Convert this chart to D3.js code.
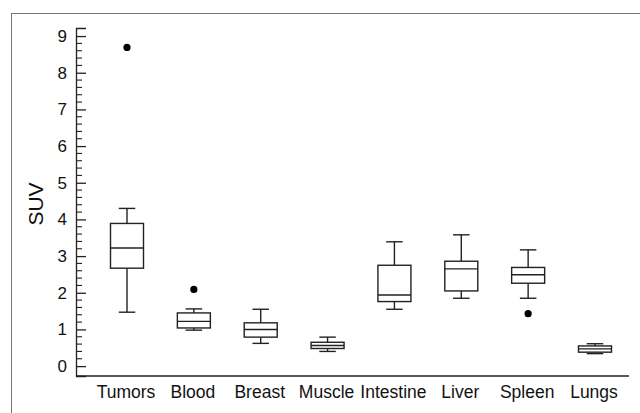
<!DOCTYPE html>
<html>
<head>
<meta charset="utf-8">
<script src="https://cdn.jsdelivr.net/npm/d3@7"></script>
<style>
  body { margin: 0; background: #fff; }
  svg { display: block; font-family: "Liberation Sans", Arial, sans-serif; }
</style>
</head>
<body>
<svg id="chart" width="640" height="413"></svg>
<script>
// box statistics
const organs = ['Tumors', 'Blood', 'Breast', 'Muscle', 'Intestine', 'Liver', 'Spleen', 'Lungs'];
const whiskerLow = [1.47, 0.98, 0.62, 0.40, 1.55, 1.85, 1.85, 0.34];
const q1 = [2.67, 1.04, 0.79, 0.48, 1.76, 2.05, 2.26, 0.38];
const median = [3.22, 1.22, 1.00, 0.56, 1.94, 2.65, 2.49, 0.47];
const q3 = [3.89, 1.45, 1.18, 0.65, 2.75, 2.86, 2.69, 0.55];
const whiskerHigh = [4.30, 1.56, 1.55, 0.79, 3.39, 3.58, 3.17, 0.61];
// outliers as [organ, value]
const outliers = [['Tumors', 8.69], ['Blood', 2.09], ['Spleen', 1.43]];
const yTicks = [0, 1, 2, 3, 4, 5, 6, 7, 8, 9];

const svg = d3.select('#chart');
const ink = '#222';

// outer frame
svg.append('rect')
  .attr('x', 11.5).attr('y', 13.5)
  .attr('width', 700).attr('height', 500)
  .attr('fill', 'none').attr('stroke', '#777').attr('stroke-width', 1);

const y = d3.scaleLinear().domain([-0.27, 9.22]).range([376, 28]);
const x = d3.scalePoint().domain(organs).range([127, 595]);
const boxW = 33;

// y axis, ticks pointing inward
const yAxis = svg.append('g').attr('transform', 'translate(76,0)')
  .call(d3.axisRight(y).tickValues(yTicks).tickSize(10).tickFormat(''));
yAxis.select('.domain').attr('stroke', ink).attr('stroke-width', 1.3);
yAxis.selectAll('.tick line').attr('stroke', ink).attr('stroke-width', 1.3);

const minor = d3.range(0, 9.01, 0.2).filter(v => Math.abs(v - Math.round(v)) > 0.01);
yAxis.selectAll('.minor').data(minor).enter().append('line')
  .attr('x1', 0).attr('x2', 6)
  .attr('y1', d => y(d)).attr('y2', d => y(d))
  .attr('stroke', ink).attr('stroke-width', 1.1);

svg.append('g').selectAll('text').data(yTicks).enter().append('text')
  .attr('x', 67).attr('y', d => y(d) + 6)
  .attr('text-anchor', 'end')
  .attr('font-size', 17)
  .attr('fill', '#111')
  .text(d => d);

// x axis line
svg.append('line')
  .attr('x1', 76).attr('x2', 629)
  .attr('y1', y(-0.27)).attr('y2', y(-0.27))
  .attr('stroke', ink).attr('stroke-width', 1.3);

svg.append('g').selectAll('text').data(organs).enter().append('text')
  .attr('x', d => x(d) - 1)
  .attr('y', 398)
  .attr('text-anchor', 'middle')
  .attr('font-size', 17.5)
  .attr('fill', '#111')
  .text(d => d);

// y label
svg.append('text')
  .attr('transform', 'translate(43,204) rotate(-90)')
  .attr('text-anchor', 'middle')
  .attr('font-size', 21)
  .attr('fill', '#111')
  .text('SUV');

// boxes
const boxes = svg.append('g').selectAll('g').data(organs).enter().append('g')
  .attr('stroke', ink).attr('stroke-width', 1.4).attr('fill', 'none');

boxes.append('line')
  .attr('x1', d => x(d)).attr('x2', d => x(d))
  .attr('y1', (d, i) => y(whiskerHigh[i])).attr('y2', (d, i) => y(q3[i]));
boxes.append('line')
  .attr('x1', d => x(d)).attr('x2', d => x(d))
  .attr('y1', (d, i) => y(q1[i])).attr('y2', (d, i) => y(whiskerLow[i]));
boxes.append('line')
  .attr('x1', d => x(d) - boxW / 4).attr('x2', d => x(d) + boxW / 4)
  .attr('y1', (d, i) => y(whiskerHigh[i])).attr('y2', (d, i) => y(whiskerHigh[i]));
boxes.append('line')
  .attr('x1', d => x(d) - boxW / 4).attr('x2', d => x(d) + boxW / 4)
  .attr('y1', (d, i) => y(whiskerLow[i])).attr('y2', (d, i) => y(whiskerLow[i]));
boxes.append('rect')
  .attr('x', d => x(d) - boxW / 2)
  .attr('y', (d, i) => y(q3[i]))
  .attr('width', boxW)
  .attr('height', (d, i) => y(q1[i]) - y(q3[i]))
  .attr('fill', '#fff');
boxes.append('line')
  .attr('x1', d => x(d) - boxW / 2).attr('x2', d => x(d) + boxW / 2)
  .attr('y1', (d, i) => y(median[i])).attr('y2', (d, i) => y(median[i]));

svg.append('g').selectAll('circle').data(outliers).enter().append('circle')
  .attr('cx', d => x(d[0]))
  .attr('cy', d => y(d[1]))
  .attr('r', 3.6)
  .attr('fill', '#000');
</script>
</body>
</html>
